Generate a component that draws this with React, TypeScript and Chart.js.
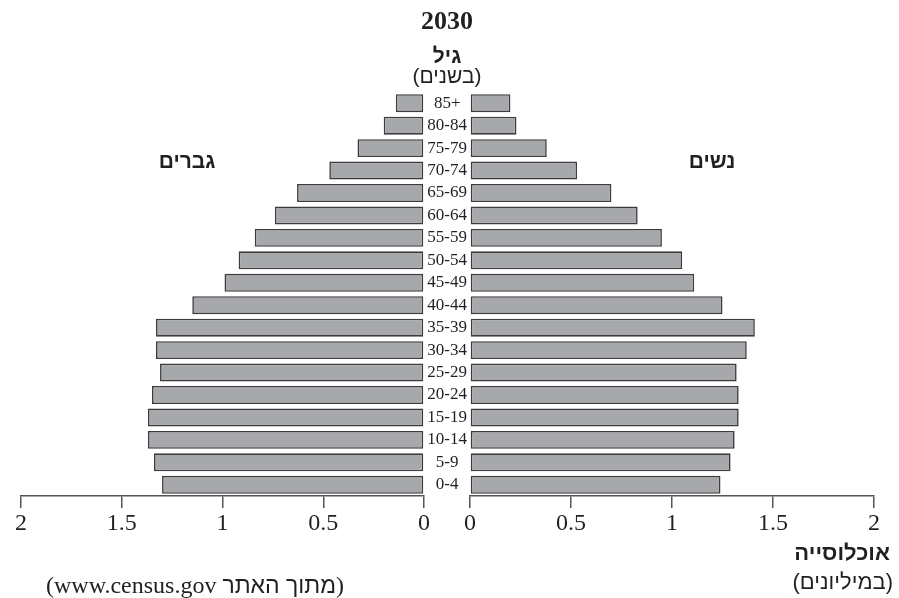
import React, { useEffect, useRef } from "react";
import { Chart, registerables } from "chart.js";

Chart.register(...registerables);

const ageGroups = ["85+", "80-84", "75-79", "70-74", "65-69", "60-64", "55-59", "50-54", "45-49", "40-44", "35-39", "30-34", "25-29", "20-24", "15-19", "10-14", "5-9", "0-4"];
const menValues = [0.14, 0.2, 0.33, 0.47, 0.63, 0.74, 0.84, 0.92, 0.99, 1.15, 1.33, 1.33, 1.31, 1.35, 1.37, 1.37, 1.34, 1.3];
const womenValues = [0.2, 0.23, 0.38, 0.53, 0.7, 0.83, 0.95, 1.05, 1.11, 1.25, 1.41, 1.37, 1.32, 1.33, 1.33, 1.31, 1.29, 1.24];
const axisMin = 0;
const axisMax = 2;
const axisStep = 0.5;

const BAR_FILL = "#a7a8ac";
const BAR_EDGE = "#3c3c3c";
const AXIS_COLOR = "#555555";
const TEXT_COLOR = "#231f20";
const SERIF = "'Liberation Serif', 'DejaVu Serif', serif";
const HEB = "'Liberation Sans', 'DejaVu Sans', sans-serif";

function xScale(reverse: boolean) {
  return {
    type: "linear" as const,
    min: axisMin,
    max: axisMax,
    reverse,
    afterFit: (s: any) => {
      s.height = 102;
    },
    border: { display: true, color: AXIS_COLOR, width: 1.5 },
    grid: {
      drawOnChartArea: false,
      drawTicks: true,
      tickLength: 12,
      color: AXIS_COLOR,
      lineWidth: 1.5,
    },
    ticks: {
      stepSize: axisStep,
      padding: 1,
      color: TEXT_COLOR,
      font: { family: SERIF, size: 24 },
      callback: (v: any) => String(v),
    },
  };
}

function dataset(values: number[]) {
  return {
    data: values,
    backgroundColor: BAR_FILL,
    borderColor: BAR_EDGE,
    borderWidth: 1.6,
    borderSkipped: false as const,
    barPercentage: 0.8,
    categoryPercentage: 1,
  };
}

const ltrPlugin = {
  id: "ltrText",
  beforeDraw(chart: any) {
    chart.ctx.direction = "ltr";
  },
};

export default function App() {
  const leftRef = useRef<HTMLCanvasElement>(null);
  const rightRef = useRef<HTMLCanvasElement>(null);

  useEffect(() => {
    const left = new Chart(leftRef.current!, {
      type: "bar",
      data: { labels: ageGroups, datasets: [dataset(menValues)] },
      plugins: [ltrPlugin],
      options: {
        indexAxis: "y",
        responsive: false,
        animation: false,
        devicePixelRatio: 1,
        layout: { padding: { left: 21, right: 23, top: 92, bottom: 0 } },
        plugins: { legend: { display: false }, tooltip: { enabled: false } },
        scales: {
          x: xScale(true),
          y: { display: false },
        },
      },
    });
    const right = new Chart(rightRef.current!, {
      type: "bar",
      data: { labels: ageGroups, datasets: [dataset(womenValues)] },
      plugins: [ltrPlugin],
      options: {
        indexAxis: "y",
        responsive: false,
        animation: false,
        devicePixelRatio: 1,
        layout: { padding: { left: 0, right: 25, top: 92, bottom: 0 } },
        plugins: { legend: { display: false }, tooltip: { enabled: false } },
        scales: {
          x: xScale(false),
          y: {
            position: "left",
            afterFit: (s: any) => {
              s.width = 46;
            },
            border: { display: false },
            grid: { display: false, drawTicks: false },
            ticks: {
              autoSkip: false,
              crossAlign: "center",
              padding: 3,
              color: TEXT_COLOR,
              font: { family: SERIF, size: 17 },
            },
          },
        },
      },
    });
    return () => {
      left.destroy();
      right.destroy();
    };
  }, []);

  const label = (
    content: React.ReactNode,
    x: number,
    y: number,
    opts: { bold?: boolean; size: number; family: string; anchor?: "center" | "right" }
  ) => (
    <div
      dir="rtl"
      style={{
        position: "absolute",
        left: opts.anchor === "right" ? undefined : x,
        right: opts.anchor === "right" ? 899 - x : undefined,
        top: y,
        transform: opts.anchor === "right" ? "translateY(-50%)" : "translate(-50%, -50%)",
        whiteSpace: "nowrap",
        lineHeight: 1,
        fontFamily: opts.family,
        fontSize: opts.size,
        fontWeight: opts.bold ? 700 : 400,
        color: TEXT_COLOR,
      }}
    >
      {content}
    </div>
  );

  return (
    <div
      dir="ltr"
      style={{
        position: "absolute",
        left: 0,
        top: 0,
        width: 899,
        height: 598,
        background: "#ffffff",
        overflow: "hidden",
      }}
    >
      <canvas ref={leftRef} width={447} height={598} style={{ position: "absolute", left: 0, top: 0, direction: "ltr" }} />
      <canvas ref={rightRef} width={475} height={598} style={{ position: "absolute", left: 424, top: 0, direction: "ltr" }} />
      {label("2030", 447, 21, { bold: true, size: 26, family: SERIF })}
      {label("גיל", 447, 55, { bold: true, size: 21, family: HEB })}
      {label("(בשנים)", 447, 75, { size: 21, family: HEB })}
      {label("גברים", 187, 160, { bold: true, size: 21, family: HEB })}
      {label("נשים", 712, 160, { bold: true, size: 21, family: HEB })}
      {label("אוכלוסייה", 890, 553, { bold: true, size: 22, family: HEB, anchor: "right" })}
      {label("(במיליונים)", 893, 582, { size: 22, family: HEB, anchor: "right" })}
      {label(
        <>
          (<span style={{ fontFamily: HEB, fontSize: 23 }}>מתוך האתר</span> www.census.gov)
        </>,
        195,
        585,
        { size: 24, family: SERIF }
      )}
    </div>
  );
}
